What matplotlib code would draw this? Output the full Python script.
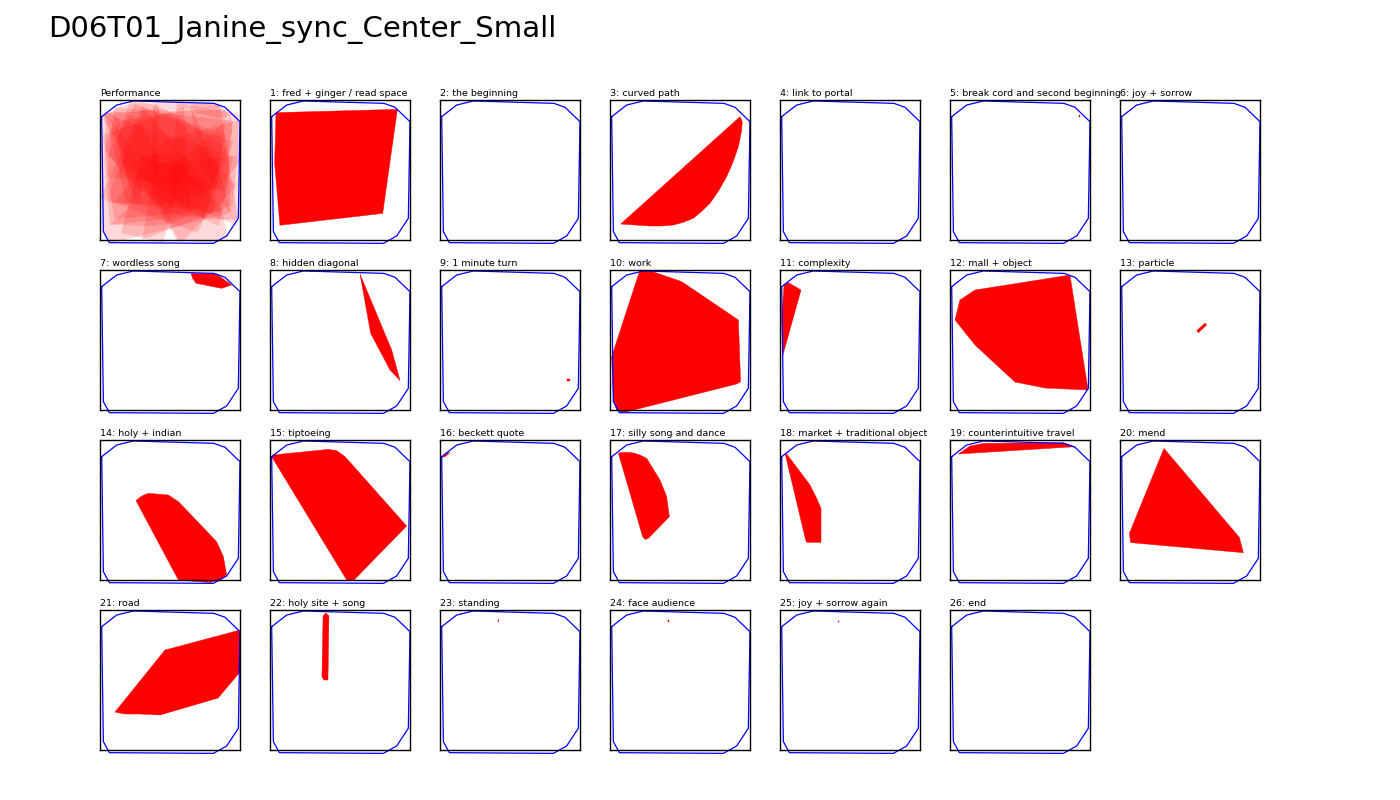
import numpy as np
import matplotlib
matplotlib.use("Agg")
import matplotlib.pyplot as plt

title = "D06T01_Janine_sync_Center_Small"

# stage boundary (normalised, y up)
boundary_x = [0.012, 0.119, 0.238, 0.814, 0.893, 1.0, 0.988, 0.905, 0.81, 0.067, 0.024, 0.012]
boundary_y = [0.881, 0.964, 0.993, 0.976, 0.948, 0.845, 0.155, 0.029, -0.024, -0.019, 0.06, 0.881]

section_names = [
    "1: fred + ginger / read space", "2: the beginning", "3: curved path", "4: link to portal",
    "5: break cord and second beginning", "6: joy + sorrow", "7: wordless song", "8: hidden diagonal",
    "9: 1 minute turn", "10: work", "11: complexity", "12: mall + object", "13: particle",
    "14: holy + indian", "15: tiptoeing", "16: beckett quote", "17: silly song and dance",
    "18: market + traditional object", "19: counterintuitive travel", "20: mend", "21: road",
    "22: holy site + song", "23: standing", "24: face audience", "25: joy + sorrow again", "26: end",
]

# convex hull of the dancer's position in each section (x list, y list)
hull_x = [
    [0.043, 0.910, 0.805, 0.071, 0.033],
    [],
    [0.076, 0.929, 0.945, 0.940, 0.917, 0.880, 0.833, 0.775, 0.714, 0.650, 0.595, 0.520, 0.452, 0.370, 0.286],
    [],
    [0.918, 0.928, 0.928, 0.918],
    [0.924, 0.934, 0.934, 0.924],
    [0.650, 0.833, 0.940, 0.869, 0.686, 0.662],
    [0.643, 0.869, 0.929, 0.857, 0.719],
    [0.908, 0.932, 0.932, 0.908],
    [0.214, 0.286, 0.512, 0.917, 0.933, 0.905, 0.095, 0.048, 0.024, 0.012],
    [0.029, 0.060, 0.150, 0.019, 0.012],
    [0.036, 0.071, 0.179, 0.857, 0.986, 0.679, 0.464, 0.179],
    [0.548, 0.560, 0.619, 0.607],
    [0.257, 0.298, 0.345, 0.488, 0.560, 0.833, 0.881, 0.905, 0.857, 0.786, 0.560],
    [0.012, 0.019, 0.417, 0.476, 0.536, 0.976, 0.595, 0.548],
    [0.012, 0.048, 0.071, 0.036],
    [0.060, 0.083, 0.155, 0.214, 0.262, 0.357, 0.405, 0.424, 0.274, 0.250, 0.233],
    [0.036, 0.048, 0.214, 0.262, 0.293, 0.293, 0.190, 0.183],
    [0.060, 0.143, 0.238, 0.810, 0.893],
    [0.314, 0.852, 0.881, 0.076, 0.067],
    [0.107, 0.464, 1.0, 1.0, 0.843, 0.429, 0.286, 0.179],
    [0.379, 0.400, 0.421, 0.414, 0.386, 0.371],
    [0.412, 0.418, 0.422, 0.417],
    [0.415, 0.419, 0.419, 0.415],
    [0.415, 0.419, 0.419, 0.415],
    [],
]
hull_y = [
    [0.910, 0.933, 0.190, 0.105, 0.548],
    [],
    [0.114, 0.881, 0.845, 0.780, 0.667, 0.560, 0.452, 0.350, 0.262, 0.200, 0.155, 0.125, 0.107, 0.100, 0.100],
    [],
    [0.892, 0.892, 0.880, 0.880],
    [0.888, 0.888, 0.884, 0.884],
    [0.976, 0.971, 0.893, 0.869, 0.905, 0.940],
    [0.971, 0.429, 0.210, 0.286, 0.548],
    [0.222, 0.222, 0.208, 0.208],
    [1.0, 0.995, 0.917, 0.643, 0.202, 0.186, -0.019, 0.0, 0.071, 0.381],
    [0.893, 0.910, 0.857, 0.386, 0.667],
    [0.643, 0.786, 0.857, 0.964, 0.143, 0.157, 0.200, 0.464],
    [0.567, 0.552, 0.607, 0.621],
    [0.567, 0.600, 0.619, 0.607, 0.560, 0.274, 0.167, 0.036, 0.0, -0.019, 0.0],
    [0.881, 0.893, 0.933, 0.924, 0.881, 0.386, -0.005, 0.0],
    [0.876, 0.905, 0.910, 0.881],
    [0.905, 0.912, 0.910, 0.893, 0.869, 0.714, 0.595, 0.452, 0.298, 0.290, 0.310],
    [0.905, 0.900, 0.679, 0.583, 0.512, 0.269, 0.269, 0.286],
    [0.900, 0.957, 0.976, 0.981, 0.952],
    [0.940, 0.305, 0.195, 0.267, 0.333],
    [0.271, 0.714, 0.857, 0.557, 0.371, 0.250, 0.257, 0.257],
    [0.957, 0.979, 0.957, 0.500, 0.500, 0.521],
    [0.918, 0.918, 0.930, 0.930],
    [0.915, 0.915, 0.927, 0.927],
    [0.915, 0.915, 0.919, 0.919],
    [],
]

# extra windowed hulls seen in the whole-performance overlay
window_x = [
    [0.0, 0.3, 0.95, 0.7],
    [0.1, 0.95, 0.9, 0.05],
    [0.3, 0.95, 0.98, 0.4],
    [0.02, 0.6, 0.65, 0.1],
    [0.55, 0.99, 0.98, 0.5],
    [0.15, 0.45, 0.6, 0.3],
    [0.05, 0.25, 0.9, 0.75],
    [0.2, 0.85, 0.95, 0.1],
]
window_y = [
    [0.3, 0.95, 0.7, 0.05],
    [0.95, 0.85, 0.35, 0.45],
    [0.0, 0.25, 0.6, 0.55],
    [0.75, 0.95, 0.2, 0.15],
    [0.98, 0.9, 0.1, 0.3],
    [0.05, -0.02, 0.5, 0.6],
    [0.6, 0.97, 0.75, 0.15],
    [0.4, 0.1, 0.6, 0.88],
]

fig = plt.figure(figsize=(14, 8), dpi=100)
fig.text(48 / 1400, 1 - 30 / 800, title, fontsize=21, ha="left", va="center")

ncol = 7
panels = ["Performance"] + section_names
for k, name in enumerate(panels):
    r, c = divmod(k, ncol)
    left = (100 + 170 * c) / 1400
    bottom = 1 - (240 + 170 * r) / 800
    ax = fig.add_axes([left, bottom, 140 / 1400, 140 / 800])
    ax.set_xlim(0, 1)
    ax.set_ylim(0, 1)
    ax.set_xticks([])
    ax.set_yticks([])
    for s in ax.spines.values():
        s.set_color("black")
        s.set_linewidth(1)
    ax.set_title(name, loc="left", fontsize=6.8, pad=3)

    if k == 0:
        for xs, ys in zip(hull_x + window_x, hull_y + window_y):
            if len(xs) > 2:
                ax.fill(xs, ys, color="red", alpha=0.15, lw=0, clip_on=False)
    else:
        xs, ys = hull_x[k - 1], hull_y[k - 1]
        if xs:
            ax.fill(xs, ys, color="red", lw=0.3, clip_on=False)
    ax.plot(boundary_x, boundary_y, color="blue", lw=0.9, clip_on=False)

fig.savefig("out.png", dpi=100)
